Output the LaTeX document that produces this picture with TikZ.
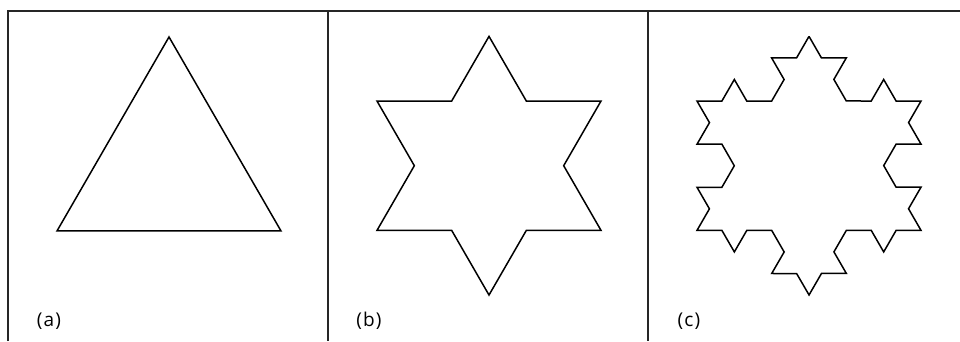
\documentclass[tikz,border=0pt]{standalone}
\usepackage{fontspec}
\setmainfont{Open Sans}
\newfontfamily\labelfont[LetterSpace=6]{Open Sans}
\usetikzlibrary{decorations.fractals}
\begin{document}
\begin{tikzpicture}[x=1pt,y=1pt,
  frame/.style={line width=1.2pt,black!85},
  shapeline/.style={line width=1.5pt,line join=miter,black},
  panellabel/.style={font=\labelfont\fontsize{19}{22}\selectfont,inner sep=0pt}]
\useasboundingbox (0,0) rectangle (960,341);
% frame
\coordinate (tl) at (8,330);
\coordinate (tr) at (960,330);
\coordinate (bl) at (8,0);
\coordinate (d1t) at (328,330);
\coordinate (d1b) at (328,0);
\coordinate (d2t) at (648,330);
\coordinate (d2b) at (648,0);
\draw[frame] (bl) -- (tl) -- (tr);
\draw[frame] (d1t) -- (d1b);
\draw[frame] (d2t) -- (d2b);
% (a) triangle
\begin{scope}[shift={(169,174.7)}]
\draw[shapeline] (90:129.33) -- (-30:129.33) -- (210:129.33) -- cycle;
\end{scope}
% (b) hexagram
\begin{scope}[shift={(489,175.3)}]
\draw[shapeline] (90:129.33) -- (60:74.67) -- (30:129.33) -- (0:74.67)
  -- (-30:129.33) -- (-60:74.67) -- (-90:129.33) -- (-120:74.67)
  -- (-150:129.33) -- (180:74.67) -- (150:129.33) -- (120:74.67) -- cycle;
\end{scope}
% (c) Koch snowflake, second iteration
\begin{scope}[shift={(809,175.3)}]
\draw[shapeline,decoration=Koch snowflake]
  decorate{decorate{(90:129.33) -- (-30:129.33) -- (210:129.33) -- cycle}};
\end{scope}
% labels
\node[panellabel] (la) at (49,20) {(a)};
\node[panellabel] (lb) at (369,20) {(b)};
\node[panellabel] (lc) at (689,20) {(c)};
\end{tikzpicture}
\end{document}
